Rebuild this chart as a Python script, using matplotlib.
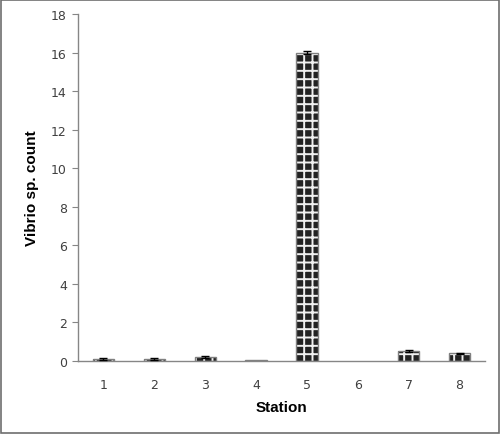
import matplotlib
matplotlib.use('Agg')
import matplotlib.pyplot as plt
from matplotlib.patches import Rectangle

# data
stations = ['1', '2', '3', '4', '5', '6', '7', '8']
counts = [0.1, 0.1, 0.2, 0.05, 16.0, 0.0, 0.5, 0.4]
errors = [0.03, 0.03, 0.03, 0.0, 0.1, 0.0, 0.05, 0.02]

plt.rcParams['hatch.linewidth'] = 1.4

fig = plt.figure(figsize=(5, 4.35), dpi=100)
ax = fig.add_axes([0.156, 0.168, 0.814, 0.7975])

x = list(range(len(stations)))
# patterned fill (white hatch on black), then the grey outline on top
outline_w = [1.0 if c > 0 else 0 for c in counts]
ax.bar(x, counts, width=0.42, color='#222222', edgecolor='#f0f0f0', hatch='++', linewidth=0, zorder=2)
ax.bar(x, counts, width=0.42, fill=False, edgecolor='#808080', linewidth=outline_w, zorder=3)

# error bars only where there is a spread
ex = [i for i in x if errors[i] > 0]
ax.errorbar(ex, [counts[i] for i in ex], yerr=[errors[i] for i in ex], fmt='none',
            ecolor='black', elinewidth=1, capsize=3, zorder=4)

ax.set_xlim(-0.5, len(stations) - 0.5)
ax.set_ylim(0, 18)
ax.set_yticks(range(0, 19, 2))
ax.set_xticks(x)
ax.set_xticklabels(stations)

for s in ['top', 'right']:
    ax.spines[s].set_visible(False)
for s in ['left', 'bottom']:
    ax.spines[s].set_color('#868686')
    ax.spines[s].set_linewidth(1)

ax.tick_params(axis='y', direction='out', length=4, color='#868686', labelsize=9, labelcolor='#404040', pad=4)
ax.tick_params(axis='x', length=0, labelsize=9, labelcolor='#404040', pad=12)

ax.set_ylabel('Vibrio sp. count', fontsize=11, fontweight='bold', family='Liberation Sans', labelpad=9)
ax.set_xlabel('Station', fontsize=11, fontweight='bold', family='Liberation Sans', labelpad=7)

# frame round the whole picture
fig.patches.append(Rectangle((0.002, 0.003), 0.995, 0.994, transform=fig.transFigure,
                             fill=False, edgecolor='#6e6e6e', linewidth=1.2))

fig.savefig('out.png', dpi=100)
